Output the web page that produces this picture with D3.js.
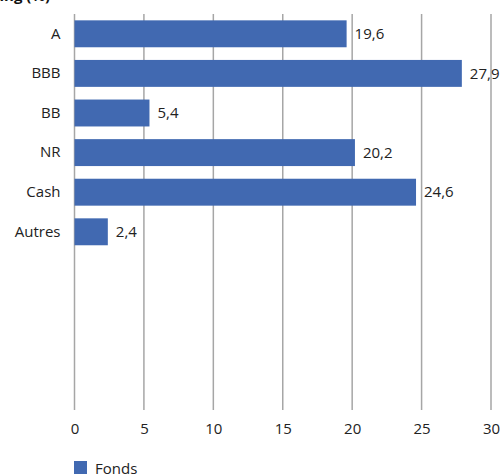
<!DOCTYPE html>
<html><head><meta charset="utf-8">
<script src="https://cdn.jsdelivr.net/npm/d3@7"></script>
<style>body{margin:0;background:#fff;}svg{display:block;font-family:"Open Sans","Noto Sans",sans-serif;}</style>
</head><body>
<svg id="c" width="503" height="474"></svg>
<script>
const title = "Rating (%)";
const categories = ["A","BBB","BB","NR","Cash","Autres","","","",""];
const values = [19.6, 27.9, 5.4, 20.2, 24.6, 2.4];
const xTicks = [0,5,10,15,20,25,30];
const seriesName = "Fonds";

const svg = d3.select("#c");
const x = d3.scaleLinear().domain([0,30]).range([74.5,491]);
const y = d3.scaleBand().domain(d3.range(categories.length)).range([14,410]).paddingInner(0.32).paddingOuter(0.16);
const color = "#4169B1";
const fmt = v => d3.format(".1f")(v).replace(".", ",");

svg.append("text").attr("x",50).attr("y",1).attr("text-anchor","end")
  .attr("font-weight","bold").attr("font-size",15).attr("fill","#111").text(title);

// gridlines
svg.append("g").selectAll("line").data(xTicks).join("line")
  .attr("x1",d=>x(d)).attr("x2",d=>x(d)).attr("y1",14).attr("y2",410)
  .attr("stroke","#a6a6a6").attr("stroke-width",1.5);

// x axis tick labels
const xa = svg.append("g").attr("transform","translate(0,410)")
  .call(d3.axisBottom(x).tickValues(xTicks).tickSize(0).tickPadding(13).tickFormat(d=>d));
xa.select(".domain").remove();
xa.selectAll("text").attr("font-size",15).attr("fill","#222").attr("font-family","\"Open Sans\",\"Noto Sans\",sans-serif");

// y axis labels
const ya = svg.append("g").attr("transform","translate(74.5,0)")
  .call(d3.axisLeft(y).tickSize(0).tickPadding(14).tickFormat(i=>categories[i]));
ya.select(".domain").remove();
ya.selectAll("text").attr("font-size",15).attr("fill","#222").attr("font-family","\"Open Sans\",\"Noto Sans\",sans-serif");

// bars
svg.append("g").selectAll("rect").data(values).join("rect")
  .attr("x",x(0)).attr("y",(d,i)=>y(i)).attr("width",d=>x(d)-x(0)).attr("height",y.bandwidth())
  .attr("fill",color);

svg.append("g").selectAll("text").data(values).join("text")
  .attr("x",d=>x(d)+8).attr("y",(d,i)=>y(i)+y.bandwidth()/2).attr("dy","0.35em")
  .attr("font-size",15).attr("fill","#222").text(d=>fmt(d));

// legend
svg.append("rect").attr("x",74).attr("y",461).attr("width",13).attr("height",13).attr("fill",color);
svg.append("text").attr("x",95).attr("y",474).attr("font-size",15).attr("fill","#222").text(seriesName);
</script>
</body></html>
